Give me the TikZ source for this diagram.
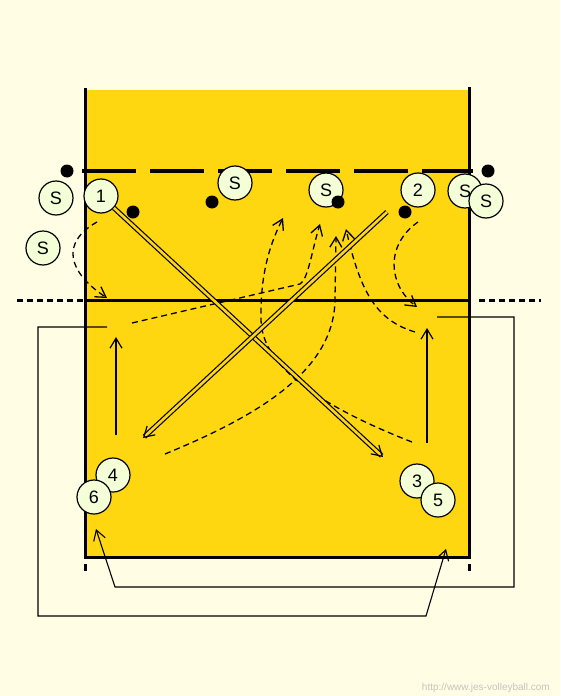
\documentclass[tikz,border=0pt]{standalone}
\usepackage{fontspec}
\setmainfont{Liberation Sans}
\usetikzlibrary{arrows.meta}
\definecolor{paper}{RGB}{255,253,227}
\definecolor{courtyellow}{RGB}{255,215,16}
\definecolor{playerfill}{RGB}{244,255,216}
\definecolor{urlgrey}{RGB}{196,196,190}

\begin{document}
\begin{tikzpicture}[x=1pt, y=-1pt,
    player/.style={circle, draw, line width=1.2pt, fill=playerfill, minimum size=34pt,
                   inner sep=0pt, font=\fontsize{18}{18}\selectfont},
    ball/.style={circle, fill=black, minimum size=13pt, inner sep=0pt},
    arr/.style={-{Straight Barb[length=10pt,width=12pt]}, line width=1.2pt},
    run/.style={arr, dash pattern=on 6pt off 4pt, line width=1.3pt},
    hit/.style={double=courtyellow, double distance=2.6pt, line width=1.2pt,
                -{Straight Barb[length=10pt,width=12pt]}},
    courtline/.style={line width=3pt}
]
\fill[paper] (0,0) rectangle (560,696);
\useasboundingbox (0,0) rectangle (560,696);

% court
\fill[courtyellow] (85,90) rectangle (469,557);
\draw[courtline] (85,88) -- (85,557) -- (469,557) -- (469,87);
\draw[courtline] (85,300) -- (469,300);
\draw[courtline, dash pattern=on 6pt off 4pt] (17,300) -- (83,300);
\draw[courtline, dash pattern=on 6pt off 4pt] (479,300) -- (541,300);
\draw[line width=4.5pt, dash pattern=on 54pt off 14pt] (82,171) -- (473,171);
\draw[courtline] (85,564) -- (85,571);
\draw[courtline] (469,564) -- (469,571);

% free ends
\coordinate (h1e) at (383,457);
\coordinate (h2s) at (387,212);
\coordinate (h2e) at (143,438);
\coordinate (u4s) at (116,435);
\coordinate (u4e) at (116,337);
\coordinate (u3s) at (427,443);
\coordinate (u3e) at (427,328);
\coordinate (outs) at (107,327);
\coordinate (oute) at (446,549);
\coordinate (ins) at (437,317);
\coordinate (ine) at (96,529);
\coordinate (r1s) at (97,222);
\coordinate (r1e) at (107,298);
\coordinate (r2s) at (132,323);
\coordinate (r2e) at (320,224);
\coordinate (r3s) at (412,442);
\coordinate (r3e) at (283,218);
\coordinate (r4s) at (165,454);
\coordinate (r4e) at (336,236);
\coordinate (r5s) at (415,332);
\coordinate (r5e) at (346,229);
\coordinate (r6s) at (418,222);
\coordinate (r6e) at (417,307);

% rotation
\draw[arr, line width=1.1pt] (outs) -- (38,327) -- (38,616) -- (426,616) -- (oute);
\draw[arr, line width=1.1pt] (ins) -- (514,317) -- (514,587) -- (115,587) -- (ine);
\draw[arr] (u4s) -- (u4e);
\draw[arr] (u3s) -- (u3e);

% runs
\draw[run] (r1s) .. controls (60,243) and (68,272) .. (r1e);
\draw[run] (r2s) -- (300,284) .. controls (308,280) and (312,250) .. (r2e);
\draw[run] (r3s) .. controls (330,410) and (262,370) .. (261,320)
                 .. controls (260,270) and (272,240) .. (r3e);
\draw[run] (r4s) .. controls (260,415) and (334,370) .. (335,300) -- (r4e);
\draw[run] (r5s) .. controls (375,320) and (360,290) .. (r5e);
\draw[run] (r6s) .. controls (385,245) and (388,285) .. (r6e);

% players
\node[player] (p1) at (101,196) {1};
\node[player] (p2) at (418,190) {2};
\node[player] (p4) at (113,475) {4};
\node[player] (p6) at (94,497) {6};
\node[player] (p3) at (417,481) {3};
\node[player] (p5) at (438,500) {5};
\node[player] (sa) at (56,198) {S};
\node[player] (sb) at (43,248) {S};
\node[player] (sc) at (235,183) {S};
\node[player] (sd) at (326,190) {S};
\node[player] (se) at (465,191) {S};
\node[player] (sf) at (486,201) {S};

% attacks
\draw[hit] (p1) -- (h1e);
\draw[hit] (h2s) -- (h2e);

% balls
\node[ball] (b1) at (67,171) {};
\node[ball] (b2) at (488,171) {};
\node[ball] (b3) at (133,212) {};
\node[ball] (b4) at (212,202) {};
\node[ball] (b5) at (338,202) {};
\node[ball] (b6) at (405,212) {};

\node[anchor=south east, inner sep=0pt, text=urlgrey, font=\fontsize{10}{10}\selectfont] (url) at (550,693)
  {http://www.jes-volleyball.com};
\end{tikzpicture}
\end{document}
